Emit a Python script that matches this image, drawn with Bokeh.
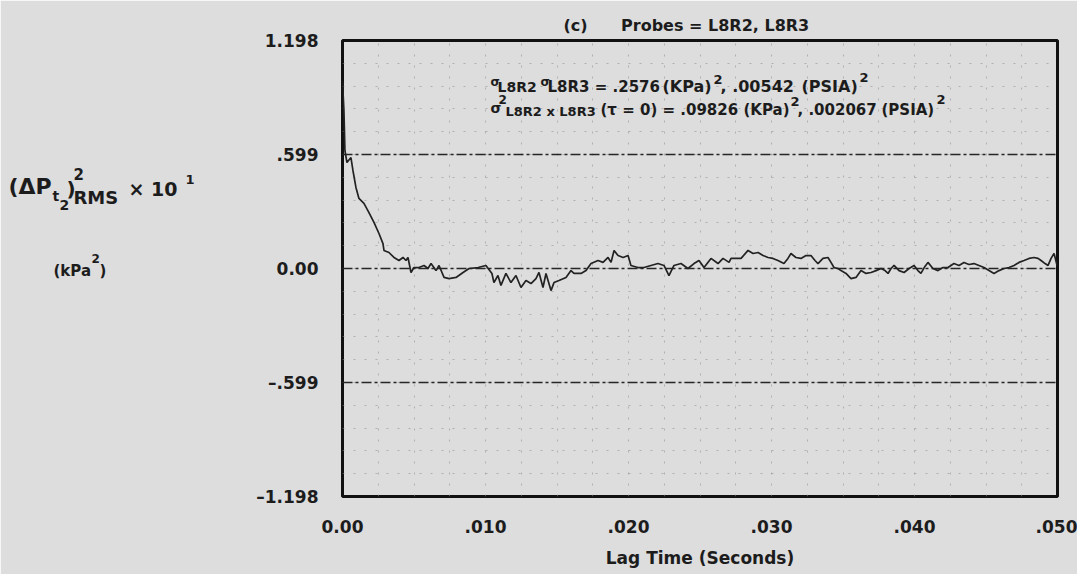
from bokeh.plotting import figure
from bokeh.models import Range1d, FixedTicker, Label
from bokeh.embed import file_html
from bokeh.resources import INLINE

# ---- data ----
lag_ms = [0.00, 0.10, 0.17, 0.31, 0.59, 0.73, 0.94, 1.15, 1.50, 1.85, 2.20, 2.55, 2.83, 2.90,
          3.25, 3.60, 3.95, 4.23, 4.44, 4.58, 4.79, 5.00, 5.35, 5.70, 5.98, 6.19, 6.54, 6.75,
          7.10, 7.45, 7.94, 8.43, 8.85, 9.48, 10.03, 10.45, 10.59, 10.87, 11.08, 11.43, 11.78,
          12.13, 12.48, 12.83, 13.18, 13.53, 13.74, 14.02, 14.23, 14.58, 14.79, 15.14, 15.63,
          15.98, 16.19, 16.68, 17.03, 17.38, 17.87, 18.22, 18.57, 18.78, 18.99, 19.27, 19.62,
          19.97, 20.17, 20.66, 21.08, 21.57, 22.06, 22.48, 22.83, 23.18, 23.67, 24.16, 24.58,
          24.93, 25.28, 25.77, 26.26, 26.61, 27.03, 27.17, 27.87, 28.36, 28.71, 29.06, 29.41,
          29.76, 30.10, 30.45, 30.87, 31.15, 31.36, 31.71, 32.06, 32.41, 32.76, 33.04, 33.25,
          33.60, 33.95, 34.16, 34.37, 34.65, 34.86, 35.21, 35.56, 35.91, 36.26, 36.61, 36.96,
          37.31, 37.66, 37.94, 38.15, 38.36, 38.57, 38.92, 39.27, 39.62, 39.97, 40.24, 40.45,
          40.73, 40.94, 41.29, 41.64, 41.99, 42.34, 42.55, 42.76, 43.11, 43.46, 43.81, 44.16,
          44.51, 44.86, 45.21, 45.56, 45.91, 46.26, 46.61, 46.96, 47.31, 47.66, 48.01, 48.36,
          48.64, 48.85, 49.13, 49.34, 49.55, 49.76, 49.97]
correlation = [0.983, 0.830, 0.620, 0.557, 0.583, 0.515, 0.426, 0.368, 0.342, 0.294, 0.242, 0.184,
               0.131, 0.095, 0.084, 0.058, 0.042, 0.058, 0.042, 0.058, -0.021, 0.005, 0.005, 0.016,
               0.000, 0.026, -0.011, 0.016, -0.047, -0.053, -0.047, -0.021, 0.000, 0.005, 0.016,
               -0.026, -0.074, -0.037, -0.089, -0.026, -0.074, -0.037, -0.100, -0.063, -0.079,
               -0.053, -0.021, -0.100, -0.026, -0.116, -0.074, -0.063, -0.047, -0.011, -0.026,
               -0.026, -0.011, 0.026, 0.042, 0.032, 0.058, 0.032, 0.095, 0.068, 0.058, 0.068,
               0.016, 0.005, 0.005, 0.016, 0.026, 0.016, -0.037, 0.016, 0.026, 0.000, 0.026,
               0.042, 0.005, 0.053, 0.026, 0.053, 0.032, 0.053, 0.053, 0.095, 0.079, 0.084,
               0.068, 0.058, 0.053, 0.042, 0.026, 0.053, 0.079, 0.058, 0.053, 0.068, 0.068,
               0.042, 0.026, 0.053, 0.058, 0.032, 0.005, 0.000, -0.011, -0.026, -0.053, -0.047,
               -0.011, -0.026, -0.021, -0.011, 0.000, -0.011, -0.026, 0.000, 0.016, -0.011,
               -0.021, 0.000, 0.016, -0.011, -0.026, 0.011, 0.032, 0.000, -0.011, 0.005, 0.005,
               0.016, 0.026, 0.016, 0.032, 0.021, 0.026, 0.016, 0.005, -0.011, -0.026, -0.011,
               0.000, 0.005, 0.016, 0.032, 0.042, 0.053, 0.058, 0.053, 0.042, 0.026, 0.016,
               0.053, 0.079, 0.016]
lag_s = [v / 1000.0 for v in lag_ms]

x_ticks = [0.0, 0.01, 0.02, 0.03, 0.04, 0.05]
x_tick_labels = ["0.00", ".010", ".020", ".030", ".040", ".050"]
x_minor = [0.0025 * i for i in range(21)]
y_ticks = [-1.198, -0.599, 0.0, 0.599, 1.198]
y_tick_labels = ["\u20131.198", "\u2013.599", "0.00", ".599", "1.198"]
y_lines = [-0.599, 0.0, 0.599]
y_minor = [round(-1.198 + 0.1198 * i, 4) for i in range(21)]

title_text = "(c)\u00a0\u00a0\u00a0\u00a0\u00a0\u00a0Probes = L8R2, L8R3"

BG = "#dddddd"
INK = "#1c1c1c"
FONT = "DejaVu Sans"

W, H = 1077, 574
LEFT, RIGHT, TOP, BOTTOM = 342, 20, 40, 78
FW, FH = W - LEFT - RIGHT, H - TOP - BOTTOM
X0, X1, Y0, Y1 = 0.0, 0.05, -1.198, 1.198

p = figure(width=W, height=H, x_range=Range1d(X0, X1), y_range=Range1d(Y0, Y1),
           output_backend="svg", toolbar_location=None,
           min_border_left=LEFT, min_border_right=RIGHT, min_border_top=TOP,
           min_border_bottom=BOTTOM, background_fill_color=BG, border_fill_color=BG)
p.outline_line_color = "#111111"
p.outline_line_width = 3

p.title.text = title_text
p.title.align = "left"
p.title.offset = 221
p.title.standoff = 12
p.title.text_font = FONT
p.title.text_font_size = "16px"
p.title.text_font_style = "bold"
p.title.text_color = INK

# x axis
p.xaxis.ticker = FixedTicker(ticks=x_ticks, minor_ticks=x_minor)
p.xaxis.major_label_overrides = dict(zip(x_ticks, x_tick_labels))
p.xaxis.axis_label = "Lag Time (Seconds)"
p.xaxis.axis_label_text_font = FONT
p.xaxis.axis_label_text_font_size = "17px"
p.xaxis.axis_label_text_font_style = "bold"
p.xaxis.axis_label_text_color = INK
p.xaxis.axis_label_standoff = 12
p.xaxis.major_label_standoff = 17

# y axis
p.yaxis.ticker = FixedTicker(ticks=y_ticks)
p.yaxis.major_label_overrides = dict(zip(y_ticks, y_tick_labels))
p.yaxis.major_label_standoff = 18

for ax in (p.xaxis, p.yaxis):
    ax.axis_line_color = None
    ax.major_tick_line_color = None
    ax.minor_tick_line_color = None
    ax.major_label_text_font = FONT
    ax.major_label_text_font_size = "17px"
    ax.major_label_text_font_style = "bold"
    ax.major_label_text_color = INK

# grids
p.xgrid.grid_line_color = None
p.xgrid.minor_grid_line_color = "#8c8c8c"
p.xgrid.minor_grid_line_dash = "2 9"
p.xgrid.minor_grid_line_alpha = 0.55
p.ygrid.ticker = FixedTicker(ticks=y_lines, minor_ticks=y_minor)
p.ygrid.grid_line_color = "#262626"
p.ygrid.grid_line_width = 1.6
p.ygrid.grid_line_dash = "10 3 3 3"
p.ygrid.minor_grid_line_color = "#8c8c8c"
p.ygrid.minor_grid_line_dash = "2 9"
p.ygrid.minor_grid_line_alpha = 0.55

# curve
p.line(lag_s, correlation, line_color="#222222", line_width=1.7)

# statistics text (screen units relative to the plot frame)
def add_text(sx, sy, text, size):
    p.add_layout(Label(x=sx, y=sy, x_units="screen", y_units="screen", text=text,
                       text_font=FONT, text_font_size=f"{size}px", text_font_style="bold",
                       text_color=INK, text_baseline="middle", text_align="left"))

# line 1
add_text(148, 415, "\u03c3", 12)
add_text(155, 410, "L8R2", 14)
add_text(198, 415, "\u03c3", 12)
add_text(205, 410, "L8R3 = .2576", 15)
add_text(320, 410, "(KPa)", 16)
add_text(371, 417, "2", 13)
add_text(378, 410, ", .00542", 16)
add_text(459, 410, "(PSIA)", 16)
add_text(517, 419, "2", 13)
# line 2
add_text(148, 389, "\u03c3", 14)
add_text(156, 397, "2", 12)
add_text(163, 385, "L8R2 x L8R3", 13)
add_text(258, 387, "(\u03c4 = 0) = .09826", 15)
add_text(401, 387, "(KPa)", 15)
add_text(448, 395, "2", 13)
add_text(455, 387, ", .002067", 15)
add_text(539, 387, "(PSIA)", 15)
add_text(594, 397, "2", 13)

# quantity label left of the y axis (placed in the left side panel, page pixel layout)
def add_side_text(px, py, text, size):
    x = X0 + (px - LEFT) * (X1 - X0) / FW
    y = Y0 + (TOP + FH - py) * (Y1 - Y0) / FH
    p.add_layout(Label(x=x, y=y, text=text, text_font=FONT, text_font_size=f"{size}px",
                       text_font_style="bold", text_color=INK, text_baseline="middle",
                       text_align="left"), "left")

add_side_text(8, 186, "(\u0394P", 22)
add_side_text(52, 195, "t", 14)
add_side_text(59, 204, "2", 14)
add_side_text(66, 188, ")", 20)
add_side_text(73, 173, "2", 15)
add_side_text(73, 197, "RMS", 18)
add_side_text(128, 188, "\u00d7 10", 19)
add_side_text(185, 179, "1", 13)
add_side_text(53, 270, "(kPa", 15)
add_side_text(91, 258, "2", 12)
add_side_text(99, 270, ")", 15)

open("out.html", "w").write(file_html(p, INLINE))
